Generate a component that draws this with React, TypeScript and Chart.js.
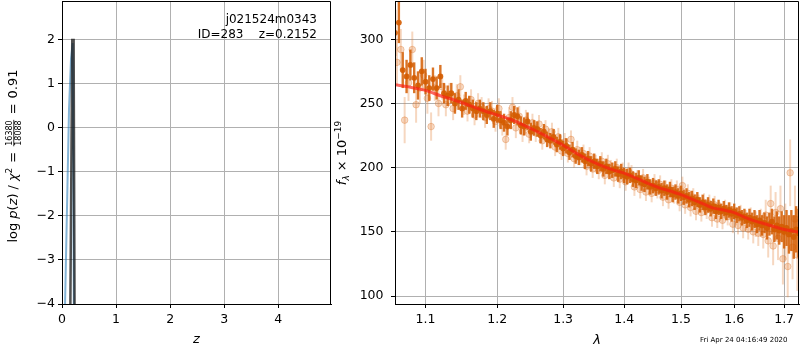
import React, { useEffect, useRef } from 'react';
import { Chart, registerables } from 'chart.js';
Chart.register(...registerables);

const FONT = "'DejaVu Sans', sans-serif";

// ---------- left panel data ----------
const zTicks = [0, 1, 2, 3, 4];
const logpTicks = [-4, -3, -2, -1, 0, 1, 2];
const zRange = [0, 4.976];
const logpRange = [-4, 2.886];
const pzZ = [0.04, 0.13, 0.167, 0.198, 0.222];
const pzLogp = [-5, 0.45, 1.58, 1.93, -5];
const peakZ = [0.149, 0.19, 0.215, 0.235];
const peakLogp = [-5, 2.0, 2.0, -5];
const fieldName = 'j021524m0343';
const idLabel = 'ID=283    z=0.2152';
const chi2Num = '16380';
const chi2Den = '18088';
const chi2Ratio = '0.91';

// ---------- right panel data ----------
const waveTicks = [1.1, 1.2, 1.3, 1.4, 1.5, 1.6, 1.7];
const fluxTicks = [100, 150, 200, 250, 300];
const waveRange = [1.06, 1.731];
const fluxRange = [93.8, 329.8];
const timestamp = 'Fri Apr 24 04:16:49 2020';

const modelWave = [1.06, 1.08, 1.10, 1.12, 1.14, 1.16, 1.18, 1.20, 1.22, 1.24, 1.26, 1.28, 1.30, 1.32, 1.34, 1.36, 1.38, 1.40, 1.42, 1.44, 1.46, 1.48, 1.50, 1.52, 1.54, 1.56, 1.58, 1.60, 1.62, 1.64, 1.66, 1.68, 1.70, 1.72, 1.731];
const modelFlux = [264.5, 262.6, 260.2, 256, 252.5, 248.5, 244.5, 241, 237.5, 233, 228, 222.8, 217.5, 211.5, 206.3, 202, 198.5, 195.7, 192, 188, 184.5, 181.8, 179, 175.5, 172, 168.5, 167, 165, 161.5, 158.5, 156.3, 154, 151.8, 150.5, 149.8];

const darkWave = [
  1.060, 1.065, 1.070, 1.075, 1.080, 1.085, 1.090, 1.095, 1.100, 1.105,
  1.110, 1.115, 1.120, 1.125, 1.130, 1.135, 1.140, 1.145, 1.150, 1.155,
  1.160, 1.165, 1.170, 1.175, 1.180, 1.185, 1.190, 1.195, 1.200, 1.205,
  1.210, 1.215, 1.220, 1.225, 1.230, 1.235, 1.240, 1.245, 1.250, 1.255,
  1.260, 1.265, 1.270, 1.275, 1.280, 1.285, 1.290, 1.295, 1.300, 1.305,
  1.310, 1.315, 1.320, 1.325, 1.330, 1.335, 1.340, 1.345, 1.350, 1.355,
  1.360, 1.365, 1.370, 1.375, 1.380, 1.385, 1.390, 1.395, 1.400, 1.405,
  1.410, 1.415, 1.420, 1.425, 1.430, 1.435, 1.440, 1.445, 1.450, 1.455,
  1.460, 1.465, 1.470, 1.475, 1.480, 1.485, 1.490, 1.495, 1.500, 1.505,
  1.510, 1.515, 1.520, 1.525, 1.530, 1.535, 1.540, 1.545, 1.550, 1.555,
  1.560, 1.565, 1.570, 1.575, 1.580, 1.585, 1.590, 1.595, 1.600, 1.605,
  1.610, 1.615, 1.620, 1.625, 1.630, 1.635, 1.640, 1.645, 1.650, 1.655,
  1.660, 1.665, 1.670, 1.675, 1.680, 1.685, 1.690, 1.695, 1.700, 1.705,
  1.710, 1.715, 1.720, 1.725, 1.730,
];
const darkFlux = [
  305, 313, 276, 271, 280, 270, 264, 275, 267, 262,
  269, 262, 271, 258, 256, 258, 250, 253, 246, 252,
  249, 246, 244, 246, 244, 241, 244, 238, 242, 237,
  235, 232, 237, 241, 240, 233, 232, 236, 228, 231,
  230, 225, 228, 222, 221, 224, 218, 220, 215, 217,
  212, 214, 209, 208, 210, 205, 207, 203, 205, 201,
  203, 199, 201, 197, 198, 199, 195, 197, 194, 193,
  194, 191, 190, 192, 188, 187, 189, 185, 186, 184,
  185, 182, 184, 181, 183, 179, 181, 178, 180, 177,
  178, 175, 176, 173, 175, 171, 173, 169, 171, 168,
  170, 166, 169, 166, 168, 165, 167, 164, 166, 163,
  164, 161, 162, 159, 161, 158, 160, 156, 159, 155,
  157, 153, 156, 158, 152, 155, 151, 154, 150, 153,
  148, 151, 146, 152, 149,
];
const darkErr = [
  18, 16, 14, 13, 12, 12, 11, 11, 10, 10,
  9, 9, 9, 8, 8, 8, 8, 8, 7, 7,
  7, 7, 7, 7, 7, 7, 7, 7, 7, 7,
  7, 7, 7, 7, 7, 7, 7, 7, 7, 6,
  6, 6, 6, 6, 6, 6, 6, 6, 6, 6,
  6, 6, 6, 6, 6, 6, 6, 6, 6, 6,
  6, 6, 6, 6, 6, 6, 6, 6, 6, 6,
  6, 6, 6, 6, 6, 6, 6, 6, 6, 6,
  6, 6, 6, 6, 6, 6, 6, 6, 6, 6,
  6, 6, 6, 6, 6, 6, 6, 6, 6, 6,
  6, 6, 6, 6, 6, 6, 6, 6, 6, 6,
  6, 6, 6, 6, 7, 7, 7, 7, 8, 8,
  8, 9, 9, 10, 10, 11, 11, 12, 13, 14,
  15, 16, 17, 18, 19,
];

const lightWave = [
  1.0625, 1.0675, 1.0725, 1.0775, 1.0825, 1.0875, 1.0925, 1.0975, 1.1025, 1.1075,
  1.1125, 1.1175, 1.1225, 1.1275, 1.1325, 1.1375, 1.1425, 1.1475, 1.1525, 1.1575,
  1.1625, 1.1675, 1.1725, 1.1775, 1.1825, 1.1875, 1.1925, 1.1975, 1.2025, 1.2075,
  1.2125, 1.2175, 1.2225, 1.2275, 1.2325, 1.2375, 1.2425, 1.2475, 1.2525, 1.2575,
  1.2625, 1.2675, 1.2725, 1.2775, 1.2825, 1.2875, 1.2925, 1.2975, 1.3025, 1.3075,
  1.3125, 1.3175, 1.3225, 1.3275, 1.3325, 1.3375, 1.3425, 1.3475, 1.3525, 1.3575,
  1.3625, 1.3675, 1.3725, 1.3775, 1.3825, 1.3875, 1.3925, 1.3975, 1.4025, 1.4075,
  1.4125, 1.4175, 1.4225, 1.4275, 1.4325, 1.4375, 1.4425, 1.4475, 1.4525, 1.4575,
  1.4625, 1.4675, 1.4725, 1.4775, 1.4825, 1.4875, 1.4925, 1.4975, 1.5025, 1.5075,
  1.5125, 1.5175, 1.5225, 1.5275, 1.5325, 1.5375, 1.5425, 1.5475, 1.5525, 1.5575,
  1.5625, 1.5675, 1.5725, 1.5775, 1.5825, 1.5875, 1.5925, 1.5975, 1.6025, 1.6075,
  1.6125, 1.6175, 1.6225, 1.6275, 1.6325, 1.6375, 1.6425, 1.6475, 1.6525, 1.6575,
  1.6625, 1.6675, 1.6725, 1.6775, 1.6825, 1.6875, 1.6925, 1.6975, 1.7025, 1.7075,
  1.7125, 1.7175, 1.7225, 1.7275,
];
const lightFlux = [
  282, 292, 237, 266, 292, 249, 262, 272, 254, 232,
  262, 250, 263, 249, 257, 246, 256, 263, 249, 244,
  253, 241, 250, 247, 239, 246, 244, 236, 246, 233,
  222, 239, 247, 231, 240, 228, 237, 226, 235, 227,
  234, 221, 230, 224, 228, 216, 224, 213, 220, 211,
  222, 207, 214, 209, 211, 201, 209, 199, 203, 198,
  205, 194, 203, 199, 192, 200, 191, 197, 189, 197,
  195, 185, 191, 183, 192, 181, 186, 180, 188, 183,
  187, 177, 183, 175, 184, 179, 183, 173, 186, 171,
  180, 169, 177, 166, 172, 165, 173, 167, 172, 161,
  171, 160, 166, 159, 168, 162, 166, 156, 162, 155,
  163, 153, 159, 152, 160, 150, 156, 149, 157, 148,
  163, 143, 172, 139, 165, 145, 168, 129, 150, 123,
  196, 138, 160, 132,
];
const lightErr = [
  18, 16, 18, 14, 14, 14, 12, 12, 12, 11,
  10, 10, 10, 9, 9, 9, 9, 9, 8, 8,
  8, 8, 8, 8, 8, 8, 8, 8, 8, 8,
  8, 8, 8, 8, 8, 8, 8, 7, 7, 7,
  7, 7, 7, 7, 7, 7, 7, 7, 7, 7,
  7, 7, 7, 7, 7, 7, 7, 7, 7, 7,
  7, 7, 7, 7, 7, 7, 7, 7, 7, 7,
  7, 7, 7, 7, 7, 7, 7, 7, 7, 7,
  7, 7, 7, 7, 7, 7, 7, 7, 7, 7,
  7, 7, 7, 7, 7, 7, 7, 7, 7, 7,
  7, 7, 7, 7, 7, 7, 7, 7, 7, 7,
  8, 8, 8, 8, 9, 9, 10, 10, 11, 11,
  12, 13, 14, 15, 16, 17, 18, 20, 22, 24,
  26, 25, 26, 28,
];

// ---------- helpers ----------
const pts = (xs: number[], ys: number[]) => xs.map((x, i) => ({ x, y: ys[i] }));
const fmtSigned = (v: number) => (v < 0 ? '\u2212' + Math.abs(v) : String(v));

type Seg = { t?: string; size?: number; italic?: boolean; dy?: number; gap?: number; frac?: [string, string] };

function drawRotatedRich(ctx: CanvasRenderingContext2D, segs: Seg[], cx: number, cy: number) {
  ctx.save();
  ctx.translate(cx, cy);
  ctx.rotate(-Math.PI / 2);
  ctx.fillStyle = '#000';
  ctx.textBaseline = 'alphabetic';
  ctx.textAlign = 'left';
  const fontOf = (s: Seg) => `${s.italic ? 'italic ' : ''}${s.size || 13}px ${FONT}`;
  const widths = segs.map((s) => {
    if (s.gap) return s.gap;
    ctx.font = fontOf(s);
    if (s.frac) return Math.max(ctx.measureText(s.frac[0]).width, ctx.measureText(s.frac[1]).width) + 2;
    return ctx.measureText(s.t || '').width;
  });
  const total = widths.reduce((a, b) => a + b, 0);
  let x = -total / 2;
  segs.forEach((s, i) => {
    const w = widths[i];
    if (!s.gap) {
      ctx.font = fontOf(s);
      if (s.frac) {
        ctx.textAlign = 'center';
        ctx.fillText(s.frac[0], x + w / 2, -4.6);
        ctx.fillText(s.frac[1], x + w / 2, 4.4);
        ctx.textAlign = 'left';
        ctx.fillRect(x + 0.5, -3.6, w - 1, 0.8);
      } else {
        ctx.fillText(s.t || '', x, s.dy || 0);
      }
    }
    x += w;
  });
  ctx.restore();
}

const errorBarPlugin = {
  id: 'errorBars',
  beforeDatasetDraw(chart: any, args: any) {
    const ds: any = chart.data.datasets[args.index];
    if (!ds.errors) return;
    const { ctx, chartArea: a, scales } = chart;
    ctx.save();
    ctx.beginPath();
    ctx.rect(a.left, a.top, a.right - a.left, a.bottom - a.top);
    ctx.clip();
    ctx.strokeStyle = ds.errorColor;
    ctx.lineWidth = ds.errorWidth;
    ds.data.forEach((p: any, i: number) => {
      const x = scales.x.getPixelForValue(p.x);
      const y1 = scales.y.getPixelForValue(p.y - ds.errors[i]);
      const y2 = scales.y.getPixelForValue(p.y + ds.errors[i]);
      ctx.beginPath();
      ctx.moveTo(x, y1);
      ctx.lineTo(x, y2);
      ctx.stroke();
    });
    ctx.restore();
  },
};

const boxPlugin = {
  id: 'box',
  afterDraw(chart: any) {
    const { ctx, chartArea: a } = chart;
    ctx.save();
    ctx.strokeStyle = '#000';
    ctx.lineWidth = 1;
    const l = Math.round(a.left) + 0.5;
    const t = Math.round(a.top) + 0.5;
    const r = Math.round(a.right) - 0.5;
    const b = Math.round(a.bottom) + 0.5;
    ctx.beginPath();
    ctx.moveTo(l, b);
    ctx.lineTo(l, t);
    ctx.lineTo(r, t);
    ctx.lineTo(r, b);
    ctx.lineTo(l, b);
    ctx.stroke();
    ctx.restore();
  },
};

const leftTextPlugin = {
  id: 'leftText',
  afterDraw(chart: any) {
    const ctx = chart.ctx;
    ctx.save();
    ctx.fillStyle = '#000';
    ctx.font = `12px ${FONT}`;
    ctx.textAlign = 'right';
    ctx.textBaseline = 'middle';
    ctx.fillText(fieldName, 317, 19.5);
    ctx.fillText(idLabel, 317, 34.5);
    ctx.restore();
    drawRotatedRich(ctx, [
      { t: 'log' }, { gap: 4 }, { t: 'p', italic: true }, { t: '(' }, { t: 'z', italic: true }, { t: ')' },
      { gap: 4 }, { t: '/' }, { gap: 4 }, { t: '\u03c7', italic: true }, { t: '2', size: 9, dy: -5.5 },
      { gap: 5 }, { t: '=' }, { gap: 5 }, { frac: [chi2Num, chi2Den], size: 8 }, { gap: 5 }, { t: '=' }, { gap: 5 },
      { t: chi2Ratio },
    ], 17, 156);
  },
};

const rightTextPlugin = {
  id: 'rightText',
  afterDraw(chart: any) {
    const ctx = chart.ctx;
    drawRotatedRich(ctx, [
      { t: 'f', italic: true }, { t: '\u03bb', italic: true, size: 9, dy: 3 }, { gap: 4 }, { t: '\u00d7' }, { gap: 4 },
      { t: '10' }, { t: '\u221219', size: 9, dy: -5.5 },
    ], 14, 153);
    ctx.save();
    ctx.fillStyle = '#000';
    ctx.font = `7px ${FONT}`;
    ctx.textAlign = 'left';
    ctx.textBaseline = 'middle';
    ctx.fillText(timestamp, 368, 340);
    ctx.restore();
  },
};

const tickFont = { family: FONT, size: 12.5 };
const gridOpts = { color: '#b0b0b0', lineWidth: 1, tickColor: '#000', tickLength: 4 };
const borderOpts = { display: true, color: '#000', width: 1 };

export default function App() {
  const leftRef = useRef<HTMLCanvasElement>(null);
  const rightRef = useRef<HTMLCanvasElement>(null);

  useEffect(() => {
    const left = new Chart(leftRef.current as HTMLCanvasElement, {
      type: 'scatter',
      data: {
        datasets: [
          { label: 'peak', data: pts(peakZ, peakLogp), showLine: true, borderColor: 'rgba(20,20,20,0.75)', borderWidth: 2.5, pointRadius: 0, clip: 0 } as any,
          { label: 'p(z)', data: pts(pzZ, pzLogp), showLine: true, borderColor: 'rgba(31,119,180,0.55)', borderWidth: 2, pointRadius: 0, clip: 0 } as any,
        ],
      },
      options: {
        responsive: false,
        animation: false,
        devicePixelRatio: 1,
        layout: { autoPadding: false, padding: { top: 1, right: 1, left: 0, bottom: 0 } },
        plugins: { legend: { display: false }, tooltip: { enabled: false } },
        scales: {
          x: {
            type: 'linear', min: zRange[0], max: zRange[1],
            afterBuildTicks: (s: any) => { s.ticks = zTicks.map((v) => ({ value: v })); },
            afterFit: (s: any) => { s.height = 46; s.paddingLeft = 0; s.paddingRight = 0; },
            ticks: { font: tickFont, color: '#000', padding: 4, maxRotation: 0, autoSkip: false, callback: (v: any) => fmtSigned(Number(v)) },
            grid: gridOpts, border: borderOpts,
            title: { display: true, text: 'z', color: '#000', font: { family: FONT, size: 13, style: 'italic' }, padding: { top: 0, bottom: 2.5 } },
          },
          y: {
            type: 'linear', min: logpRange[0], max: logpRange[1],
            afterBuildTicks: (s: any) => { s.ticks = logpTicks.map((v) => ({ value: v })); },
            afterFit: (s: any) => { s.width = 62; s.paddingTop = 0; s.paddingBottom = 0; },
            ticks: { font: tickFont, color: '#000', padding: 3, autoSkip: false, callback: (v: any) => fmtSigned(Number(v)) },
            grid: gridOpts, border: borderOpts,
          },
        },
      } as any,
      plugins: [boxPlugin, leftTextPlugin],
    });

    const right = new Chart(rightRef.current as HTMLCanvasElement, {
      type: 'scatter',
      data: {
        datasets: [
          { label: 'model', data: pts(modelWave, modelFlux), showLine: true, borderColor: 'rgba(250,30,20,0.68)', borderWidth: 3, pointRadius: 0, tension: 0.3 } as any,
          { label: 'dark', data: pts(darkWave, darkFlux), showLine: false, pointRadius: 2.9, pointBorderWidth: 0, backgroundColor: 'rgba(212,92,0,0.9)', borderColor: 'rgba(212,92,0,0.9)', errors: darkErr, errorColor: 'rgba(212,92,0,0.85)', errorWidth: 2.4 } as any,
          { label: 'light', data: pts(lightWave, lightFlux), showLine: false, pointRadius: 3.3, pointBorderWidth: 1, backgroundColor: 'rgba(226,122,45,0.28)', borderColor: 'rgba(215,105,25,0.3)', errors: lightErr, errorColor: 'rgba(226,122,45,0.3)', errorWidth: 2 } as any,
        ],
      },
      options: {
        responsive: false,
        animation: false,
        devicePixelRatio: 1,
        layout: { autoPadding: false, padding: { top: 1, right: 1, left: 0, bottom: 0 } },
        plugins: { legend: { display: false }, tooltip: { enabled: false } },
        scales: {
          x: {
            type: 'logarithmic', min: waveRange[0], max: waveRange[1],
            afterBuildTicks: (s: any) => { s.ticks = waveTicks.map((v) => ({ value: v })); },
            afterFit: (s: any) => { s.height = 46; s.paddingLeft = 0; s.paddingRight = 0; },
            ticks: { font: tickFont, color: '#000', padding: 4, maxRotation: 0, autoSkip: false, callback: (v: any) => Number(v).toFixed(1) },
            grid: gridOpts, border: borderOpts,
            title: { display: true, text: '\u03bb', color: '#000', font: { family: FONT, size: 13, style: 'italic' }, padding: { top: 0, bottom: 1.5 } },
          },
          y: {
            type: 'linear', min: fluxRange[0], max: fluxRange[1],
            afterBuildTicks: (s: any) => { s.ticks = fluxTicks.map((v) => ({ value: v })); },
            afterFit: (s: any) => { s.width = 63; s.paddingTop = 0; s.paddingBottom = 0; },
            ticks: { font: tickFont, color: '#000', padding: 7.5, autoSkip: false, callback: (v: any) => String(v) },
            grid: gridOpts, border: borderOpts,
          },
        },
      } as any,
      plugins: [errorBarPlugin, boxPlugin, rightTextPlugin],
    });

    return () => {
      left.destroy();
      right.destroy();
    };
  }, []);

  return (
    <div style={{ position: 'absolute', left: 0, top: 0, width: 800, height: 350, background: '#fff' }}>
      <canvas ref={leftRef} width={332} height={350} style={{ position: 'absolute', left: 0, top: 0, width: 332, height: 350 }} />
      <canvas ref={rightRef} width={468} height={350} style={{ position: 'absolute', left: 332, top: 0, width: 468, height: 350 }} />
    </div>
  );
}
